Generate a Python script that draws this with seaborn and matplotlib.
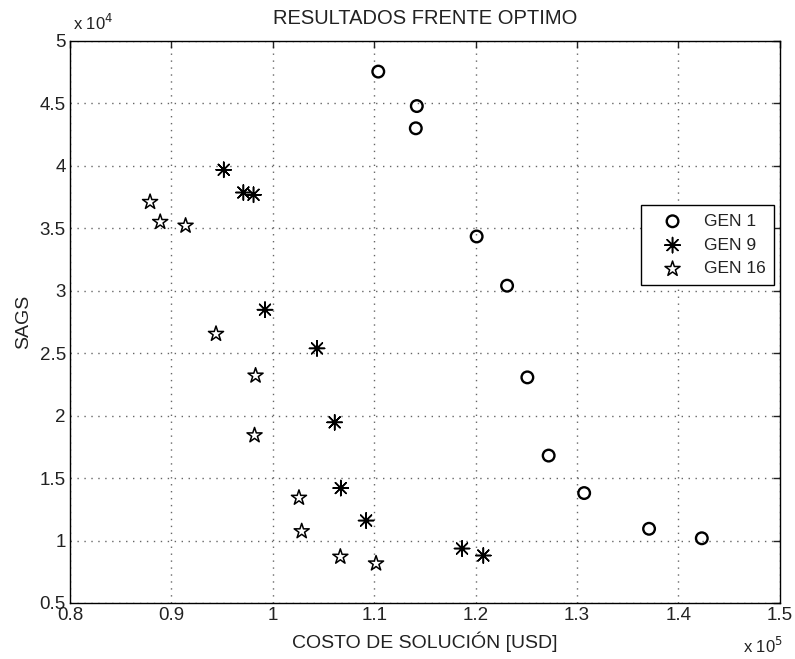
import numpy as np
import pandas as pd
import matplotlib
matplotlib.use("Agg")
import matplotlib.pyplot as plt
import seaborn as sns
from matplotlib.ticker import FuncFormatter, MultipleLocator

# Valores (costo en USD, SAGS)
costo_gen1 = [110400, 114200, 114100, 120100, 123100, 125100, 127200, 130700, 137100, 142300]
sags_gen1 = [47540, 44780, 43000, 34340, 30400, 23060, 16800, 13800, 10940, 10180]

costo_gen9 = [95160, 97100, 98100, 99230, 104360, 106100, 106700, 109200, 118660, 120760]
sags_gen9 = [39680, 37860, 37680, 28480, 25380, 19460, 14200, 11600, 9360, 8800]

costo_gen16 = [87900, 88900, 91400, 94400, 98300, 98200, 102580, 102850, 106660, 110180]
sags_gen16 = [37100, 35500, 35200, 26540, 23200, 18420, 13420, 10740, 8700, 8160]

series = ["GEN 1", "GEN 9", "GEN 16"]

df = pd.DataFrame({
    "costo": costo_gen1 + costo_gen9 + costo_gen16,
    "sags": sags_gen1 + sags_gen9 + sags_gen16,
    "gen": ["GEN 1"] * 10 + ["GEN 9"] * 10 + ["GEN 16"] * 10,
})

sns.set_theme(style="white")
plt.rcParams["font.family"] = ["Liberation Sans", "DejaVu Sans"]

fig = plt.figure(figsize=(7.95, 6.59), dpi=100)
ax = fig.add_axes([0.088, 0.085, 0.893, 0.853])

# marcador, tamano, grosor de linea para cada generacion
estilos = {
    "GEN 1": ("o", 70, 1.7),
    "GEN 9": ((8, 2, 0), 120, 1.1),
    "GEN 16": ("*", 130, 1.1),
}

for g in series:
    m, s, lw = estilos[g]
    sub = df[df["gen"] == g]
    sns.scatterplot(data=sub, x="costo", y="sags", marker=m, s=s, color="black",
                    linewidth=lw, ax=ax, label=g, zorder=3)
    coll = ax.collections[-1]
    coll.set_facecolor("none")
    coll.set_edgecolor("black")
    coll.set_linewidth(lw)

ax.set_xlim(80000, 150000)
ax.set_ylim(5000, 50000)
ax.xaxis.set_major_locator(MultipleLocator(10000))
ax.yaxis.set_major_locator(MultipleLocator(5000))
ax.xaxis.set_major_formatter(FuncFormatter(lambda v, p: f"{round(v / 1e5, 6):g}"))
ax.yaxis.set_major_formatter(FuncFormatter(lambda v, p: f"{round(v / 1e4, 6):g}"))

ax.grid(True, linestyle=(0, (1, 4)), color="#666666", linewidth=1.0)
ax.tick_params(direction="in", length=5, width=1, top=True, right=True,
               labelsize=13.5, colors="#222222", pad=3)
for sp in ax.spines.values():
    sp.set_color("black")
    sp.set_linewidth(1.0)

ax.set_title("RESULTADOS FRENTE OPTIMO", fontsize=14.5, pad=12, color="#222222")
ax.set_xlabel("COSTO DE SOLUCIÓN [USD]", fontsize=14, labelpad=5, color="#222222")
ax.set_ylabel("SAGS", fontsize=14, labelpad=5, color="#222222")

ax.text(0.004, 1.014, r"x 10$^{4}$", transform=ax.transAxes, fontsize=12,
        ha="left", va="bottom", color="#222222")
ax.text(1.004, -0.095, r"x 10$^{5}$", transform=ax.transAxes, fontsize=12,
        ha="right", va="bottom", color="#222222")

leg = ax.legend(loc="upper right", bbox_to_anchor=(0.992, 0.708), borderaxespad=0,
                fontsize=12.5, frameon=True, fancybox=False, edgecolor="black",
                framealpha=1, borderpad=0.5, handlelength=2.6, handletextpad=0.5,
                labelspacing=0.5)
leg.get_frame().set_linewidth(1.0)
for t in leg.get_texts():
    t.set_color("#222222")

fig.savefig("out.png", dpi=100)
